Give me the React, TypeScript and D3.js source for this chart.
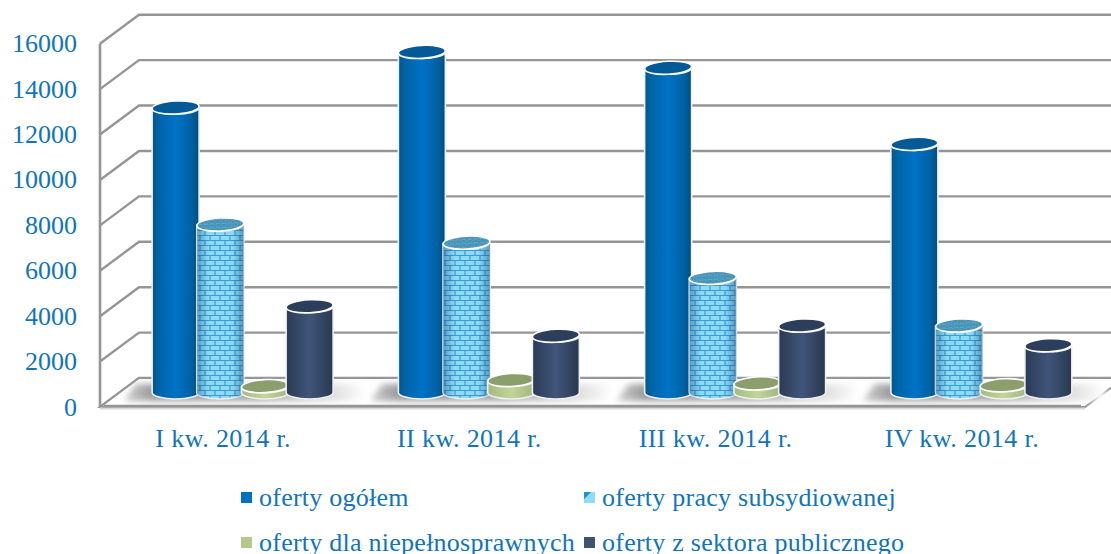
import React from "react";
import * as d3 from "d3";

const categories = ["I kw. 2014 r.", "II kw. 2014 r.", "III kw. 2014 r.", "IV kw. 2014 r."];
const seriesNames = ["oferty ogółem", "oferty pracy subsydiowanej", "oferty dla niepełnosprawnych", "oferty z sektora publicznego"];
const total = [12550, 15000, 14300, 10950];
const subsidised = [7400, 6600, 5050, 2950];
const disabled = [280, 550, 400, 320];
const publicSector = [3800, 2500, 2950, 2080];
const seriesValues = [total, subsidised, disabled, publicSector];
const yTicks = [0, 2000, 4000, 6000, 8000, 10000, 12000, 14000, 16000];

const W = 1111, H = 554;
const left = 100, right = 1085, base = 407, top = 43.7;
const dx = 39, dy = -29;
const TEXT = "#1074c0";
const FONT = "'Liberation Serif', serif";
const GRID = "#959595";

const y = d3.scaleLinear().domain([0, 16000]).range([base, top]);
const x = d3.scaleBand<string>().domain(categories).range([left, right]);
const inner = d3.scalePoint<number>().domain([0, 1, 2, 3]).range([-67, 67]);
const rx = 23.5, ry = 6.5;

const fills = ["url(#gBlue)", "url(#bricks)", "url(#gGreen)", "url(#gDark)"];
const topFills = ["#045a96", "url(#bricksTop)", "#8b9e6c", "#2b3f5c"];
const swatches = ["#0070c0", "url(#swBrick)", "#b3c98c", "#3e5272"];

function Grad({ id, stops }: { id: string; stops: [number, string][] }) {
  return (
    <linearGradient id={id} x1="0" x2="1" y1="0" y2="0">
      {stops.map(([o, c]) => <stop key={o} offset={o} stopColor={c} />)}
    </linearGradient>
  );
}

export default function App() {
  const band = x.bandwidth();
  return (
    <svg width={W} height={H} style={{ position: "absolute", left: 0, top: 0, background: "#fff" }}>
      <defs>
        <Grad id="gBlue" stops={[[0, "#00568f"], [0.15, "#0064a8"], [0.5, "#0072c6"], [0.82, "#0062a4"], [1, "#004f82"]]} />
        <Grad id="gGreen" stops={[[0, "#a4b97f"], [0.5, "#c2d69b"], [1, "#a0b47c"]]} />
        <Grad id="gDark" stops={[[0, "#2a3b55"], [0.5, "#40557a"], [1, "#28384f"]]} />
        <Grad id="shadeOverlay" stops={[[0, "rgba(0,60,110,0.4)"], [0.25, "rgba(0,60,110,0)"], [0.75, "rgba(0,60,110,0)"], [1, "rgba(0,60,110,0.42)"]]} />
        <Grad id="floorShadow" stops={[[0, "#cfcfcf"], [0.12, "#9a9a9a"], [0.55, "#a6a6a6"], [0.85, "#dcdcdc"], [1, "#ffffff"]]} />
        <pattern id="bricks" width="20" height="10" patternUnits="userSpaceOnUse">
          <rect width="20" height="10" fill="#8edbf7" />
          <path d="M0 0.5H20M0 5.5H20M5 0.5V5.5M15 0.5V5.5M0 5.5V10.5M10 5.5V10.5M20 5.5V10.5" stroke="#3a9bd5" strokeWidth="1.2" fill="none" />
        </pattern>
        <pattern id="bricksTop" width="6" height="4" patternUnits="userSpaceOnUse">
          <rect width="6" height="4" fill="#5fa6c6" />
          <path d="M0 0H6M0 2H6M2 0V2M5 2V4" stroke="#2e7ea8" strokeWidth="0.7" fill="none" />
        </pattern>
        <linearGradient id="swBrick" x1="0" x2="1" y1="0" y2="1">
          <stop offset="0.3" stopColor="#1f8fce" />
          <stop offset="0.35" stopColor="#8fdcf8" />
        </linearGradient>
        <filter id="blur" x="-10%" y="-40%" width="120%" height="180%">
          <feGaussianBlur stdDeviation="3" />
        </filter>
      </defs>

      {/* walls and gridlines */}
      {yTicks.map((t) => (
        <polyline key={t}
          points={`${left},${y(t)} ${left + dx},${y(t) + dy} ${right + dx},${y(t) + dy}`}
          fill="none" stroke={GRID} strokeWidth={2.4} />
      ))}
      <line x1={left} x2={left} y1={top} y2={base} stroke={GRID} strokeWidth={2.6} />

      {/* floor */}
      <polygon
        points={`${left},${base} ${left + dx},${base + dy} ${right + dx},${base + dy} ${right},${base}`}
        fill="#fff" stroke={GRID} strokeWidth={2} />
      <line x1={left} x2={right} y1={base + 1.5} y2={base + 1.5} stroke="#d8d8d8" strokeWidth={2} />

      {/* floor shadows */}
      {categories.map((c) => {
        const x0 = (x(c) as number) + 24;
        return (
          <polygon key={c} filter="url(#blur)" fill="url(#floorShadow)"
            points={`${x0 + 12},${base - 23} ${x0 + band - 4},${base - 23} ${x0 + band - 4},${base - 6} ${x0},${base - 6}`} />
        );
      })}
      <line x1={left + 4} x2={right - 4} y1={base - 1} y2={base - 1} stroke={GRID} strokeWidth={2.6} />

      {/* cylinders */}
      {categories.map((c, ci) => {
        const cx0 = (x(c) as number) + band / 2 + dx / 2;
        const by = dy / 2;
        return (
          <g key={c}>
            {seriesValues.map((vals, si) => {
              const cx = cx0 + (inner(si) as number);
              const yb = y(0) + by;
              const yt = y(vals[ci]) + by;
              const body = `M${cx - rx},${yt} L${cx - rx},${yb} A${rx},${ry} 0 0 0 ${cx + rx},${yb} L${cx + rx},${yt} A${rx},${ry} 0 0 1 ${cx - rx},${yt} Z`;
              return (
                <g key={si}>
                  <path d={body} fill={fills[si]} stroke="#f0f0f0" strokeWidth={1.6} />
                  {si === 1 && <path d={body} fill="url(#shadeOverlay)" />}
                  <ellipse cx={cx} cy={yt} rx={rx} ry={ry} fill={topFills[si]} stroke="#ffffff" strokeWidth={1.6}
                    transform={`rotate(-3 ${cx} ${yt})`} />
                </g>
              );
            })}
          </g>
        );
      })}

      {/* y axis labels */}
      {yTicks.map((t) => (
        <text key={t} x={77} y={y(t) + 8.5} textAnchor="end" fontFamily={FONT} fontSize={26} fill={TEXT}>{t}</text>
      ))}

      {/* category labels */}
      {categories.map((c) => (
        <text key={c} x={(x(c) as number) + band / 2} y={447} textAnchor="middle" fontFamily={FONT} fontSize={26} letterSpacing={0.4} fill={TEXT}>{c}</text>
      ))}

      {/* legend */}
      {seriesNames.map((n, i) => {
        const lx = i % 2 === 0 ? 241 : 584;
        const ly = i < 2 ? 492 : 537;
        return (
          <g key={n}>
            <rect x={lx} y={ly} width={11} height={11} fill={swatches[i]} />
            <text x={lx + 18} y={ly + 14} fontFamily={FONT} fontSize={26} letterSpacing={0.25} fill={TEXT}>{n}</text>
          </g>
        );
      })}
    </svg>
  );
}
